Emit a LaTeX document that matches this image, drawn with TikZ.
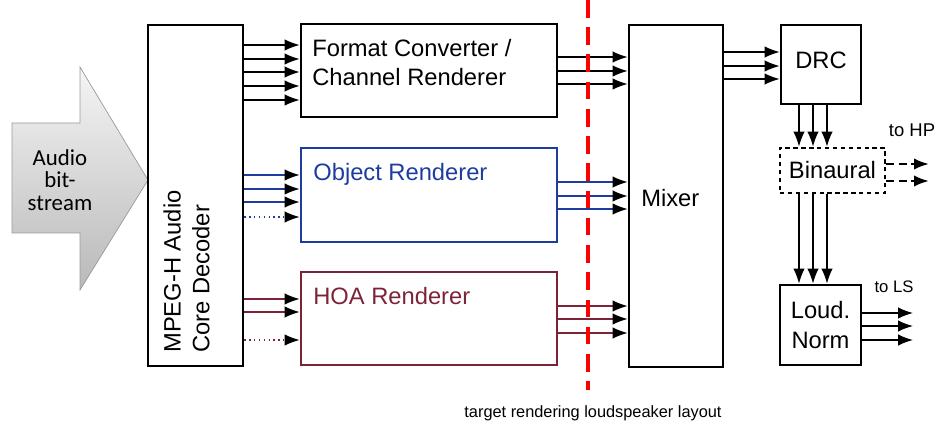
\documentclass[tikz,border=0pt]{standalone}
\usepackage{fontspec}
\setmainfont{Liberation Sans}
\newfontfamily\calibri{Carlito}
\usetikzlibrary{arrows.meta}
\definecolor{objblue}{RGB}{30,60,160}
\definecolor{hoared}{RGB}{125,35,55}

\begin{document}
\begin{tikzpicture}[x=0.2mm, y=-0.2mm,
    blk/.style={draw, line width=1.6pt, inner sep=0pt, font=\fontsize{13.5}{17}\selectfont},
    sig/.style={line width=0.75pt, -{Latex[length=8.5pt, width=6.5pt, color=black]}},
    lbl/.style={inner sep=0pt, font=\fontsize{13.5}{16.4}\selectfont}]
    \useasboundingbox (0,0) rectangle (936,425);

    % Draw the input arrow
    \draw[gray!80, top color=gray!8, bottom color=gray!55]
        (12,123) -- (80,123) -- (80,67) -- (148,180) -- (80,290) -- (80,233) -- (12,233) -- cycle;
    \node[align=center, inner sep=0pt, font=\calibri\fontsize{13}{13}\selectfont] (bitstream) at (60,180) {Audio\\bit-\\stream};

    % Draw the blocks
    \node[blk, minimum width=19mm, minimum height=68.2mm] (dec) at (195.5,195.5) {};
    \node[blk, minimum width=51.2mm, minimum height=18.6mm] (fc) at (429,70.5) {};
    \node[blk, draw=objblue, minimum width=51.2mm, minimum height=18.8mm] (obj) at (429,195) {};
    \node[blk, draw=hoared, minimum width=51.2mm, minimum height=18.6mm] (hoa) at (429,318.5) {};
    \node[blk, minimum width=18.8mm, minimum height=68.4mm] (mix) at (676,196) {};
    \node[blk, minimum width=16mm, minimum height=15.8mm, text depth=4.5pt] (drc) at (821,64.5) {DRC};
    \node[blk, dash pattern=on 2.5pt off 2pt, minimum width=21mm, minimum height=9mm] (bin) at (832.5,170.5) {Binaural};
    \node[blk, align=center, minimum width=16.2mm, minimum height=16mm] (ln) at (820.5,325) {Loud.\\Norm};

    % Label the blocks
    \node[lbl, rotate=90, anchor=north west, align=left] (dectxt) at (163,353) {MPEG-H Audio\\Core Decoder};
    \node[lbl, anchor=north west, align=left] (fctxt) at (312,39) {Format Converter /\\Channel Renderer};
    \node[lbl, anchor=north west, text=objblue] (objtxt) at (313,163) {Object Renderer};
    \node[lbl, anchor=north west, text=hoared] (hoatxt) at (313,287) {HOA Renderer};
    \node[lbl, anchor=west] (mixtxt) at (641,198) {Mixer};

    % Decoder outputs
    \foreach \y in {45,59,72,86,100}
        \draw[sig] (dec.east |- 0,\y) -- (fc.west |- 0,\y);
    \foreach \y in {175,189,202}
        \draw[sig, objblue] (dec.east |- 0,\y) -- (obj.west |- 0,\y);
    \draw[sig, objblue, dotted] (dec.east |- 0,217) -- (obj.west |- 0,217);
    \foreach \y in {299,312}
        \draw[sig, hoared] (dec.east |- 0,\y) -- (hoa.west |- 0,\y);
    \draw[sig, hoared, dotted] (dec.east |- 0,340) -- (hoa.west |- 0,340);

    % Renderer outputs to the mixer
    \foreach \y in {57,71,84}
        \draw[sig] (fc.east |- 0,\y) -- (mix.west |- 0,\y);
    \foreach \y in {182,196,209}
        \draw[sig, objblue] (obj.east |- 0,\y) -- (mix.west |- 0,\y);
    \foreach \y in {306,319,333}
        \draw[sig, hoared] (hoa.east |- 0,\y) -- (mix.west |- 0,\y);

    % Post processing
    \foreach \y in {52,66,79}
        \draw[sig] (mix.east |- 0,\y) -- (drc.west |- 0,\y);
    \foreach \x in {799,813,827} {
        \draw[sig] (drc.south -| \x,0) -- (bin.north -| \x,0);
        \draw[sig] (bin.south -| \x,0) -- (ln.north -| \x,0);
    }
    \coordinate (hp) at (929,0);
    \coordinate (ls) at (913,0);
    \foreach \y in {164,181}
        \draw[sig, line width=1.4pt, dash pattern=on 4.5pt off 2.5pt] (bin.east |- 0,\y) -- (hp |- 0,\y);
    \foreach \y in {313,326,340}
        \draw[sig] (ln.east |- 0,\y) -- (ls |- 0,\y);
    \node[inner sep=0pt, font=\fontsize{10.5}{12}\selectfont] (tohp) at (912,130) {to HP};
    \node[inner sep=0pt, font=\fontsize{9.5}{11}\selectfont] (tols) at (894,287) {to LS};

    % Target layout boundary
    \coordinate (cuttop) at (588,0);
    \coordinate (cutbot) at (588,390);
    \draw[red, line width=1.9pt, dash pattern=on 10pt off 5.5pt] (cuttop) -- (cutbot);
    \node[inner sep=0pt, font=\fontsize{9.3}{11}\selectfont] (target) at (593,413) {target rendering loudspeaker layout};
\end{tikzpicture}
\end{document}
